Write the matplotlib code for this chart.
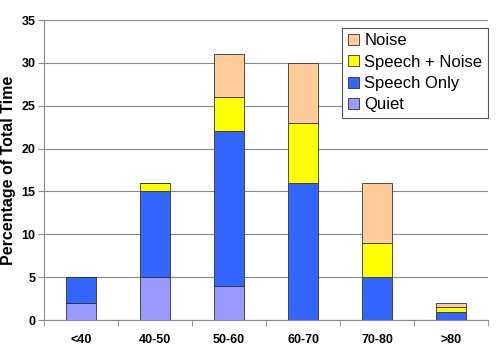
import matplotlib
matplotlib.use("Agg")
import matplotlib.pyplot as plt
import numpy as np

categories = ["<40", "40-50", "50-60", "60-70", "70-80", ">80"]
quiet = [2, 5, 4, 0, 0, 0]
speech_only = [3, 10, 18, 16, 5, 1]
speech_noise = [0, 1, 4, 7, 4, 0.5]
noise = [0, 0, 5, 7, 7, 0.5]

plt.rcParams['font.family'] = ['Liberation Sans', 'DejaVu Sans']

fig = plt.figure(figsize=(5, 3.51), dpi=100)
ax = fig.add_axes([0.088, 0.088, 0.888, 0.855])

x = np.arange(len(categories))
w = 0.4
ec = '#333333'
lw = 0.6
b0 = np.zeros(len(x))
series = [(quiet, '#9999FF', 'Quiet'), (speech_only, '#3366FF', 'Speech Only'),
          (speech_noise, '#FFFF00', 'Speech + Noise'), (noise, '#FFCC99', 'Noise')]
handles = []
for vals, col, lab in series:
    h = ax.bar(x, vals, w, bottom=b0, color=col, edgecolor=ec, linewidth=lw, label=lab, zorder=3)
    handles.append(h)
    b0 = b0 + np.array(vals)

ax.set_xlim(-0.5, len(x) - 0.5)
ax.set_ylim(0, 35)
ax.set_yticks(range(0, 36, 5))
ax.yaxis.grid(True, color='#888888', linewidth=0.8, zorder=0)
ax.set_xticks(x)
ax.set_xticklabels(categories, fontsize=9, fontweight='bold')
ax.set_xticks(np.arange(-0.5, len(x), 1), minor=True)
ax.tick_params(axis='x', which='major', length=0, pad=10)
ax.tick_params(axis='x', which='minor', length=4, color='#888888', direction='out')
ax.tick_params(axis='y', length=4, color='#888888', labelsize=9, pad=2)
for t in ax.get_yticklabels():
    t.set_fontweight('bold')
for s in ['top', 'right']:
    ax.spines[s].set_visible(False)
for s in ['left', 'bottom']:
    ax.spines[s].set_color('#888888')
ax.set_ylabel('Percentage of Total Time', fontsize=11.5, fontweight='bold', labelpad=4)

leg = ax.legend(handles[::-1], [h.get_label() for h in handles[::-1]], loc='upper right',
                bbox_to_anchor=(1.0, 0.975), fontsize=12, frameon=True, fancybox=False,
                edgecolor='#555555', framealpha=1, handlelength=0.65, handleheight=0.65,
                handletextpad=0.3, labelspacing=0.38, borderpad=0.35, borderaxespad=0)
leg.get_frame().set_linewidth(0.8)
leg.set_zorder(5)

fig.savefig('out.png', dpi=100)
